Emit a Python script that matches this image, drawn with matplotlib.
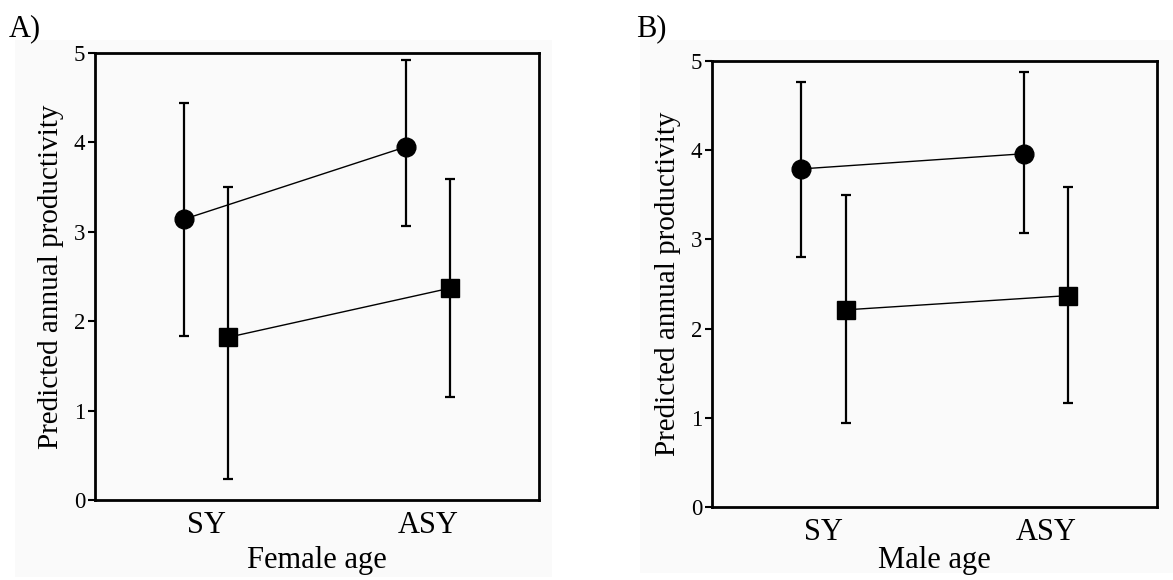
import matplotlib.pyplot as plt
from matplotlib.patches import Rectangle

plt.rcParams['font.family'] = ['Liberation Serif', 'DejaVu Serif']

ages = ['SY', 'ASY']

# panel A (female age)
a_circle = [3.14, 3.95]
a_circle_lo = [1.83, 3.07]
a_circle_hi = [4.44, 4.92]
a_square = [1.82, 2.37]
a_square_lo = [0.24, 1.15]
a_square_hi = [3.50, 3.59]

# panel B (male age)
b_circle = [3.79, 3.96]
b_circle_lo = [2.80, 3.07]
b_circle_hi = [4.76, 4.88]
b_square = [2.21, 2.37]
b_square_lo = [0.94, 1.17]
b_square_hi = [3.50, 3.59]

W, H = 1173, 580
fig = plt.figure(figsize=(W / 100, H / 100), dpi=100)

# light grey panel backgrounds
for x0, y0, x1, y1 in [(15, 40, 552, 577), (640, 40, 1173, 573)]:
    fig.patches.append(Rectangle((x0 / W, 1 - y1 / H), (x1 - x0) / W, (y1 - y0) / H,
                                 transform=fig.transFigure, facecolor='#fafafa',
                                 edgecolor='none', zorder=-10))


def panel(rect, circ, clo, chi, sq, slo, shi, xlabel, xpad, tag, tagpos):
    l, t, r, b = rect
    ax = fig.add_axes([l / W, 1 - b / H, (r - l) / W, (b - t) / H])
    ax.set_facecolor('#fafafa')
    x = [0, 1]
    xc = [i - 0.1 for i in x]
    xs = [i + 0.1 for i in x]
    err_c = [[m - lo for m, lo in zip(circ, clo)], [hi - m for m, hi in zip(circ, chi)]]
    err_s = [[m - lo for m, lo in zip(sq, slo)], [hi - m for m, hi in zip(sq, shi)]]
    ax.errorbar(xc, circ, yerr=err_c, fmt='none', ecolor='black', elinewidth=1.6,
                capsize=3.5, capthick=1.6)
    ax.errorbar(xs, sq, yerr=err_s, fmt='none', ecolor='black', elinewidth=1.6,
                capsize=3.5, capthick=1.6)
    ax.plot(xc, circ, color='black', lw=1.0, marker='o', markersize=13.5)
    ax.plot(xs, sq, color='black', lw=1.0, marker='s', markersize=12.5)
    ax.set_xlim(-0.5, 1.5)
    ax.set_ylim(0, 5)
    ax.set_xticks(x)
    ax.set_xticklabels(ages, fontsize=22)
    ax.set_yticks([0, 1, 2, 3, 4, 5])
    ax.tick_params(axis='x', length=0, pad=8)
    ax.tick_params(axis='y', direction='out', length=5, width=1.5, labelsize=16.5, pad=2)
    for s in ax.spines.values():
        s.set_linewidth(2)
    ax.set_xlabel(xlabel, fontsize=22, labelpad=xpad)
    ax.set_ylabel('Predicted annual productivity', fontsize=21, labelpad=7)
    fig.text(tagpos[0] / W, 1 - tagpos[1] / H, tag, fontsize=22, va='baseline')
    return ax


panel((95, 53, 539, 500), a_circle, a_circle_lo, a_circle_hi,
      a_square, a_square_lo, a_square_hi, 'Female age', 4, 'A)', (9, 36))
panel((712, 61, 1157, 507), b_circle, b_circle_lo, b_circle_hi,
      b_square, b_square_lo, b_square_hi, 'Male age', -1, 'B)', (636, 36))

plt.savefig('out.png', dpi=100)
